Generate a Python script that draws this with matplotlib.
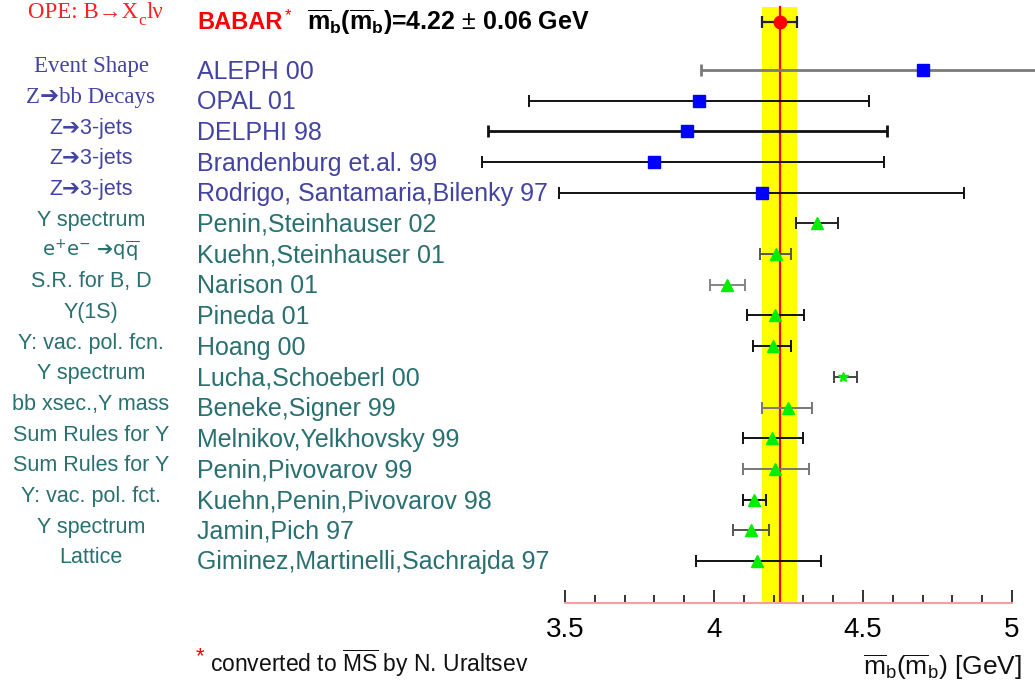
import matplotlib
matplotlib.use("Agg")
import matplotlib.pyplot as plt
import matplotlib.transforms as mtransforms
from matplotlib.ticker import MultipleLocator, FormatStrFormatter
import numpy as np

# ------------------ Datos ------------------
babar_val = 4.22
babar_err = 0.06

nombres = ["ALEPH 00", "OPAL 01", "DELPHI 98", "Brandenburg et.al. 99",
           "Rodrigo, Santamaria,Bilenky 97", "Penin,Steinhauser 02",
           "Kuehn,Steinhauser 01", "Narison 01", "Pineda 01", "Hoang 00",
           "Lucha,Schoeberl 00", "Beneke,Signer 99", "Melnikov,Yelkhovsky 99",
           "Penin,Pivovarov 99", "Kuehn,Penin,Pivovarov 98", "Jamin,Pich 97",
           "Giminez,Martinelli,Sachrajda 97"]

metodos = ["Event Shape", "Z\u2794bb Decays", "Z\u27943-jets", "Z\u27943-jets",
           "Z\u27943-jets", "Y spectrum", "e$^{+}$e$^{-}$ \u2794q$\\overline{\\rm q}$",
           "S.R. for B, D", "Y(1S)", "Y: vac. pol. fcn.", "Y spectrum",
           "bb xsec.,Y mass", "Sum Rules for Y", "Sum Rules for Y",
           "Y: vac. pol. fct.", "Y spectrum", "Lattice"]

mb = [4.70, 3.95, 3.91, 3.80, 4.16, 4.346, 4.209, 4.045, 4.206, 4.198,
      4.433, 4.249, 4.196, 4.206, 4.135, 4.125, 4.145]
lo = [3.955, 3.38, 3.24, 3.22, 3.48, 4.276, 4.155, 3.988, 4.112, 4.132,
      4.403, 4.162, 4.096, 4.096, 4.096, 4.065, 3.938]
hi = [5.45, 4.52, 4.58, 4.57, 4.84, 4.416, 4.259, 4.105, 4.303, 4.259,
      4.48, 4.33, 4.30, 4.32, 4.176, 4.186, 4.36]

# tipo de experimento: 0 = alta energia (cuadrado azul), 1 = Upsilon / reglas de suma (triangulo verde), 2 = estrella
tipo = [0, 0, 0, 0, 0, 1, 1, 1, 1, 1, 2, 1, 1, 1, 1, 1, 1]
color_barra = ["#7a7a7a", "#111111", "#111111", "#111111", "#111111", "#222222",
               "#555555", "#858585", "#111111", "#111111", "#444444", "#777777",
               "#111111", "#777777", "#111111", "#555555", "#111111"]

# ------------------ Estilo ------------------
plt.rcParams["mathtext.fontset"] = "custom"
plt.rcParams["mathtext.rm"] = "Liberation Sans"
plt.rcParams["mathtext.it"] = "Liberation Sans:italic"
plt.rcParams["mathtext.bf"] = "Liberation Sans:bold"
plt.rcParams["font.family"] = ["Liberation Sans", "DejaVu Sans"]

AZUL_TXT = "#4343a3"
VERDE_TXT = "#2a7070"

W, H = 1035, 692
fig = plt.figure(figsize=(W / 100, H / 100), dpi=100)
ax = fig.add_axes([565 / W, 1 - 603 / H, (1012 - 565) / W, 603 / H])

filas = np.arange(1, len(nombres) + 1)
fila_babar = -0.56

ax.set_xlim(3.5, 5.0)
ax.set_ylim(18.37, -1.28)

# banda BABAR
ax.axvspan(babar_val - babar_err, babar_val + babar_err, ymin=0, ymax=1 - 7 / 603,
           color="#ffff00", zorder=0, lw=0)
ax.axvline(babar_val, ymin=0, ymax=1 - 7 / 603, color="#ff0000", lw=1.6, zorder=1)

# BABAR
ax.errorbar([babar_val], [fila_babar], xerr=[[babar_err], [babar_err]], fmt="o",
            color="#ff0000", ms=9, ecolor="#222222", elinewidth=1.6, capsize=4,
            capthick=1.6, zorder=5, clip_on=False)

for i in range(len(nombres)):
    xerr = [[mb[i] - lo[i]], [hi[i] - mb[i]]]
    if tipo[i] == 0:
        mk, mc, ms = "s", "#0000ff", 8.5
    elif tipo[i] == 1:
        mk, mc, ms = "^", "#00ee00", 8
    else:
        mk, mc, ms = "*", "#00ee00", 7
    lw = 2.0 if i in (0, 2) else 1.4
    eb = ax.errorbar([mb[i]], [filas[i]], xerr=xerr, fmt=mk, color=mc, ms=ms,
                     mec=mc, ecolor=color_barra[i], elinewidth=lw, capsize=4,
                     capthick=lw, zorder=4, clip_on=False)
    for art in eb.lines[1] + eb.lines[2]:
        art.set_clip_on(False)

# eje
for s in ["left", "right", "top"]:
    ax.spines[s].set_visible(False)
ax.spines["bottom"].set_color("#f2a0a0")
ax.spines["bottom"].set_linewidth(1.5)
ax.patch.set_alpha(0)
ax.set_yticks([])
ax.xaxis.set_major_locator(MultipleLocator(0.5))
ax.xaxis.set_minor_locator(MultipleLocator(0.1))
ax.xaxis.set_major_formatter(FormatStrFormatter("%g"))
ax.tick_params(axis="x", which="major", direction="in", length=9.5, width=1.2,
               color="#111111", labelsize=20, pad=10)
ax.tick_params(axis="x", which="minor", direction="in", length=6, width=1.2,
               color="#111111")

# textos
tr = mtransforms.blended_transform_factory(fig.transFigure, ax.transData)

for i in range(len(nombres)):
    c = AZUL_TXT if i < 5 else VERDE_TXT
    ax.text(197 / W, filas[i] + 0.05, nombres[i], transform=tr, ha="left", va="center",
            fontsize=18, color=c, clip_on=False)
    if i < 2:
        fam, fs = ["Liberation Serif", "DejaVu Sans"], 16.5
    elif "$" in metodos[i]:
        fam, fs = "DejaVu Sans", 14
    else:
        fam, fs = ["Liberation Sans", "DejaVu Sans"], 15.5
    ax.text(91 / W, filas[i] - 0.1, metodos[i], transform=tr, ha="center",
            va="center", fontsize=fs, color=c, family=fam, clip_on=False,
            math_fontfamily="dejavusans")

# cabecera: OPE: B->X_c l nu, en piezas
r = fig.canvas.get_renderer()
t1 = ax.text(28 / W, fila_babar - 0.3, "OPE: B\u2192X", transform=tr, ha="left",
             va="center", fontsize=16.5, color="#ff2020",
             family=["Liberation Serif", "DejaVu Serif"], clip_on=False)
x1 = fig.transFigure.inverted().transform(t1.get_window_extent(r))[1, 0]
t2 = ax.text(x1, fila_babar - 0.02, "c", transform=tr, ha="left", va="center",
             fontsize=12.5, color="#ff2020", family="Liberation Serif", clip_on=False)
x2 = fig.transFigure.inverted().transform(t2.get_window_extent(r))[1, 0]
ax.text(x2 + 1 / W, fila_babar - 0.3, "l\u03bd", transform=tr, ha="left",
        va="center", fontsize=16.5, color="#ff2020", family="Liberation Serif",
        clip_on=False)

ax.text(197 / W, fila_babar, "BABAR", transform=tr, ha="left", va="center",
        fontsize=17, fontweight="bold", color="#ff0000", clip_on=False)
ax.text(285 / W, fila_babar - 0.2, "*", transform=tr, ha="left", va="center",
        fontsize=12, color="#ff0000", clip_on=False)
ax.text(307 / W, fila_babar,
        r"$\overline{\mathbf{m}}_{\mathbf{b}}\mathbf{(}\overline{\mathbf{m}}_{\mathbf{b}}\mathbf{)}$=4.22 $\pm$ 0.06 GeV",
        transform=tr, ha="left", va="center", fontsize=18, fontweight="bold",
        color="black", clip_on=False)

# notas al pie
fig.text(196 / W, 1 - 657 / H, "*", ha="left", va="center", fontsize=16, color="#ff0000")
fig.text(210 / W, 1 - 663 / H, r"converted to $\overline{\mathrm{MS}}$ by N. Uraltsev",
         ha="left", va="center", fontsize=16.5, color="#111111")
fig.text(1022 / W, 1 - 667 / H,
         r"$\overline{\mathrm{m}}_{\mathrm{b}}(\overline{\mathrm{m}}_{\mathrm{b}})$ [GeV]",
         ha="right", va="center", fontsize=19, color="#111111")

fig.savefig("out.png", dpi=100, facecolor="white")
